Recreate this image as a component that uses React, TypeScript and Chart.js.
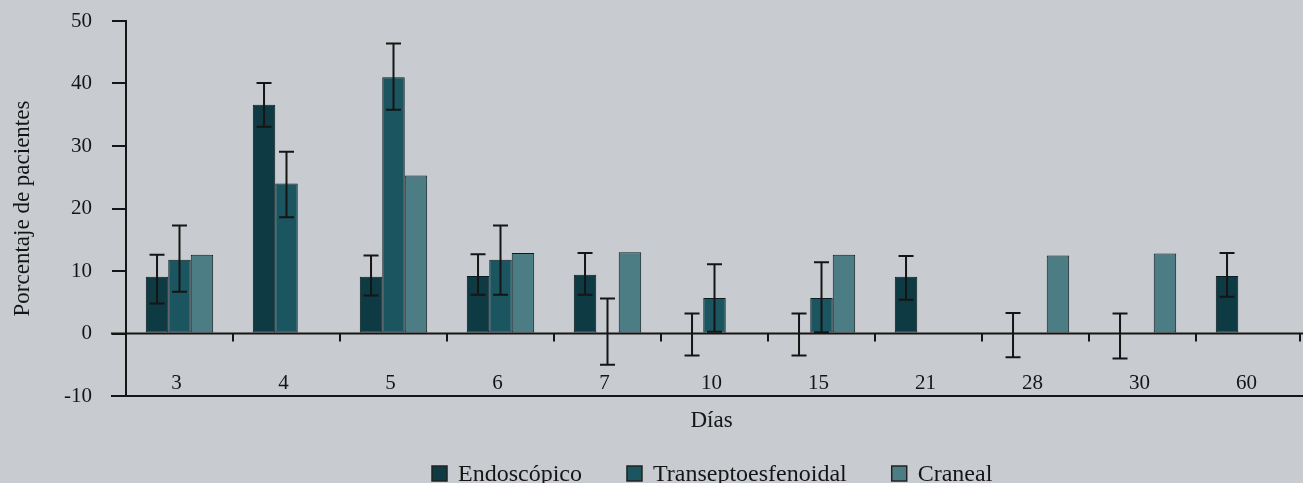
import React, { useEffect, useRef } from 'react';
import { Chart, registerables } from 'chart.js';

Chart.register(...registerables);

const categories = ['3', '4', '5', '6', '7', '10', '15', '21', '28', '30', '60'];
const seriesNames = ['Endoscópico', 'Transeptoesfenoidal', 'Craneal'];

const endoscopico = [9.1, 36.6, 9.1, 9.2, 9.4, 0, 0, 9.1, 0, 0, 9.2];
const endoErrUp = [3.5, 3.5, 3.4, 3.5, 3.5, 3.2, 3.2, 3.3, 3.3, 3.2, 3.7];
const endoErrDown = [4.3, 3.5, 3.0, 3.0, 3.2, 3.5, 3.5, 3.7, 3.8, 4.0, 3.3];

const transeptoesfenoidal = [11.8, 24.0, 41.0, 11.8, 0, 5.7, 5.7, null, null, null, null];
const transErrUp = [5.5, 5.1, 5.4, 5.5, 5.6, 5.4, 5.7, null, null, null, null];
const transErrDown = [5.1, 5.4, 5.2, 5.6, 5.0, 5.4, 5.5, null, null, null, null];

const craneal = [12.6, null, 25.3, 12.9, 13.0, null, 12.6, null, 12.5, 12.8, null];
const cranealErrUp = [null, null, null, null, null, null, null, null, null, null, null];
const cranealErrDown = [null, null, null, null, null, null, null, null, null, null, null];

const yMin = -10;
const yMax = 50;
const yStep = 10;
const xTitle = 'Días';
const yTitle = 'Porcentaje de pacientes';

const colors = ['#0e3a44', '#1b5660', '#4d7d84'];
const BG = '#c8ccd1';
const INK = '#151515';
const FONT = '"Liberation Serif", "DejaVu Serif", serif';

const errUps = [endoErrUp, transErrUp, cranealErrUp];
const errDowns = [endoErrDown, transErrDown, cranealErrDown];

const decorPlugin = {
  id: 'decor',
  beforeDraw(chart: any) {
    const { ctx, width, height } = chart;
    ctx.save();
    ctx.fillStyle = BG;
    ctx.fillRect(0, 0, width, height);
    ctx.restore();
  },
  afterDatasetsDraw(chart: any) {
    const { ctx } = chart;
    const y = chart.scales.y;
    ctx.save();
    ctx.strokeStyle = INK;
    ctx.lineWidth = 2;
    chart.data.datasets.forEach((ds: any, di: number) => {
      const meta = chart.getDatasetMeta(di);
      ds.data.forEach((v: any, j: number) => {
        const up = errUps[di][j];
        const dn = errDowns[di][j];
        if (v == null || up == null || dn == null) return;
        const el = meta.data[j];
        if (!el) return;
        const x = el.x;
        const yTop = y.getPixelForValue(v + up);
        const yBot = y.getPixelForValue(v - dn);
        const cap = 7.5;
        ctx.beginPath();
        ctx.moveTo(x, yTop);
        ctx.lineTo(x, yBot);
        ctx.moveTo(x - cap, yTop);
        ctx.lineTo(x + cap, yTop);
        ctx.moveTo(x - cap, yBot);
        ctx.lineTo(x + cap, yBot);
        ctx.stroke();
      });
    });
    ctx.restore();
  },
  afterDraw(chart: any) {
    const { ctx, chartArea } = chart;
    const x = chart.scales.x;
    const y = chart.scales.y;
    const y0 = y.getPixelForValue(0);
    const yB = y.getPixelForValue(yMin);
    const leftExt = chartArea.left - 15;
    ctx.save();
    ctx.strokeStyle = INK;
    ctx.lineWidth = 2;
    ctx.beginPath();
    ctx.moveTo(leftExt, y0);
    ctx.lineTo(chartArea.right, y0);
    ctx.moveTo(leftExt, yB);
    ctx.lineTo(chartArea.right, yB);
    ctx.stroke();
    const n = categories.length;
    ctx.beginPath();
    for (let i = 0; i < n; i++) {
      const bx = i < n - 1
        ? (x.getPixelForValue(i) + x.getPixelForValue(i + 1)) / 2
        : chartArea.right - 3;
      ctx.moveTo(bx, y0);
      ctx.lineTo(bx, y0 + 8);
    }
    ctx.stroke();
    ctx.fillStyle = INK;
    ctx.font = `21px ${FONT}`;
    ctx.textAlign = 'center';
    ctx.textBaseline = 'alphabetic';
    categories.forEach((c, i) => {
      ctx.fillText(c, x.getPixelForValue(i) - 3, y.getPixelForValue(-8.8));
    });
    ctx.font = `23px ${FONT}`;
    ctx.fillText(xTitle, (chartArea.left + chartArea.right) / 2 - 3, yB + 31);
    ctx.font = `24px ${FONT}`;
    ctx.textAlign = 'left';
    let lx = 432;
    const lyBase = 481;
    seriesNames.forEach((name, i) => {
      ctx.fillStyle = colors[i];
      ctx.fillRect(lx, lyBase - 15, 15, 15);
      ctx.lineWidth = 1.5;
      ctx.strokeStyle = '#222';
      ctx.strokeRect(lx, lyBase - 15, 15, 15);
      ctx.fillStyle = INK;
      ctx.fillText(name, lx + 26, lyBase);
      lx += 26 + ctx.measureText(name).width + 45;
    });
    ctx.restore();
  },
};

export default function App() {
  const ref = useRef<HTMLCanvasElement | null>(null);
  useEffect(() => {
    if (!ref.current) return;
    const chart = new Chart(ref.current, {
      type: 'bar',
      data: {
        labels: categories,
        datasets: [
          { label: seriesNames[0], data: endoscopico, backgroundColor: colors[0] },
          { label: seriesNames[1], data: transeptoesfenoidal, backgroundColor: colors[1] },
          { label: seriesNames[2], data: craneal, backgroundColor: colors[2] },
        ].map((d) => ({ ...d, borderColor: '#0b1b1f', borderWidth: 1, borderSkipped: false })),
      },
      options: {
        animation: false,
        responsive: false,
        maintainAspectRatio: false,
        layout: { padding: { top: 21, bottom: 87, left: 0, right: 0 } },
        datasets: { bar: { categoryPercentage: 0.63, barPercentage: 1 } },
        plugins: {
          legend: { display: false },
          tooltip: { enabled: false },
        },
        scales: {
          x: { display: false },
          y: {
            min: yMin,
            max: yMax,
            afterFit: (s: any) => {
              s.width = 126;
              s.paddingTop = 0;
              s.paddingBottom = 0;
            },
            ticks: {
              stepSize: yStep,
              color: INK,
              padding: 20,
              font: { family: FONT, size: 21 },
            },
            grid: {
              drawOnChartArea: false,
              drawTicks: true,
              tickLength: 14,
              color: INK,
              lineWidth: 2,
            },
            border: { display: true, color: INK, width: 2 },
            title: {
              display: true,
              text: yTitle,
              color: INK,
              font: { family: FONT, size: 23 },
              padding: { top: 9, bottom: 0 },
            },
          },
        },
      },
      plugins: [decorPlugin],
    });
    return () => chart.destroy();
  }, []);
  return (
    <div style={{ position: 'fixed', left: 0, top: 0, width: 1303, height: 483, background: BG }}>
      <canvas ref={ref} width={1303} height={483} style={{ display: 'block', width: 1303, height: 483 }} />
    </div>
  );
}
